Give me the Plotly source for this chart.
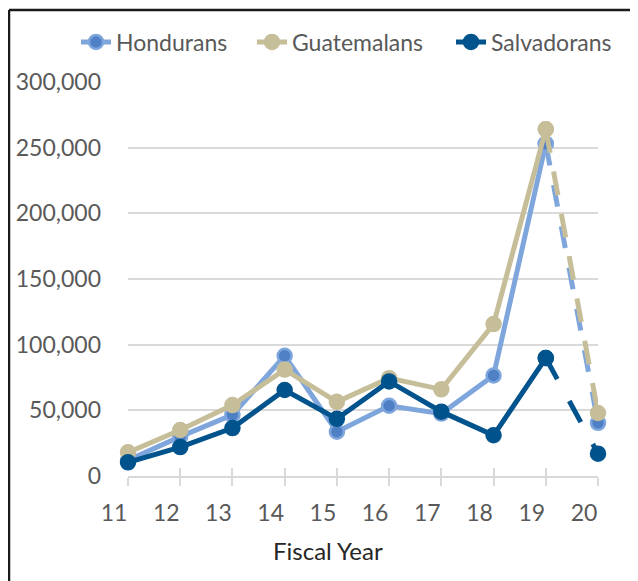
import plotly.graph_objects as go

years = [11, 12, 13, 14, 15, 16, 17, 18, 19, 20]
year_labels = ["11", "12", "13", "14", "15", "16", "17", "18", "19", "20"]
hondurans = [12000, 30000, 46500, 91500, 33700, 53500, 47500, 76500, 253000, 40500]
guatemalans = [18000, 35000, 54000, 81000, 56500, 74500, 66000, 115700, 264000, 48000]
salvadorans = [10400, 22000, 36500, 65500, 43500, 72000, 49000, 31000, 89800, 17000]
y_ticks = [0, 50000, 100000, 150000, 200000, 250000, 300000]
y_tick_text = ["0", "50,000", "100,000", "150,000", "200,000", "250,000", "300,000"]

# page body has an 8px margin; positions below are in figure pixels
OFF = 8
W, H = 638 - OFF, 581 - OFF
L, T = 128 - OFF, 82 - OFF
R = W - (598 - OFF)
B = H - (476 - OFF)
pw, ph = W - L - R, H - T - B

series = [
    ("Hondurans", hondurans, "#7EA6DC", "#4F80C6", "22px,20px", "legend", 117),
    ("Guatemalans", guatemalans, "#C6BE99", "#C6BE99", "24px,19px", "legend2", 293),
    ("Salvadorans", salvadorans, "#00538C", "#00538C", "24px,25px", "legend3", 492),
]

FONT = "Lato, 'Open Sans', sans-serif"
GRAY = "#595959"

fig = go.Figure()
legends = {}
for name, vals, lc, mc, dash, lg, tx in series:
    fig.add_trace(go.Scatter(
        x=years[:9], y=vals[:9], name=name, mode="lines+markers", legend=lg,
        line=dict(color=lc, width=5),
        marker=dict(color=mc, size=14, line=dict(color=lc, width=2.5)),
        cliponaxis=False,
    ))
    fig.add_trace(go.Scatter(
        x=years[8:], y=vals[8:], name=name, mode="lines+markers", showlegend=False,
        line=dict(color=lc, width=5, dash=dash),
        marker=dict(color=mc, size=14, line=dict(color=lc, width=2.5)),
        cliponaxis=False,
    ))
    legends[lg] = dict(orientation="h", xref="container", yref="container",
                       x=(tx - 41 - OFF) / W, xanchor="left",
                       y=1 - (42 - OFF) / H, yanchor="middle",
                       font=dict(size=23, color=GRAY, family=FONT),
                       bgcolor="rgba(0,0,0,0)", itemwidth=30)

fig.update_layout(
    width=W, height=H,
    margin=dict(l=L, r=R, t=T, b=B, autoexpand=False),
    paper_bgcolor="white", plot_bgcolor="white",
    font=dict(family=FONT, color=GRAY, size=23),
    showlegend=True,
    **legends,
    xaxis=dict(range=[11, 20], tickvals=years, ticktext=year_labels,
               showgrid=False, showline=True, linecolor="#D9D9D9", linewidth=2,
               ticks="outside", ticklen=8, tickwidth=2, tickcolor="#D9D9D9",
               ticklabelshift=-14, ticklabelstandoff=7, automargin=False,
               tickfont=dict(size=23, color=GRAY), zeroline=False),
    xaxis2=dict(range=[11, 20], overlaying="x", matches="x", tickvals=years,
                showticklabels=False, showgrid=False, showline=False,
                ticks="inside", ticklen=8, tickwidth=2, tickcolor="#D9D9D9",
                side="bottom", anchor="y", automargin=False),
    yaxis=dict(range=[0, 300000], tickvals=y_ticks, ticktext=y_tick_text,
               showgrid=True, gridcolor="#D9D9D9", gridwidth=1.5,
               zeroline=False, showline=False, ticks="", automargin=False,
               ticklabelstandoff=26, tickfont=dict(size=23, color=GRAY)),
    annotations=[dict(text="Fiscal Year", xref="paper", yref="paper",
                      x=(328 - 128) / pw, y=(476 - 550) / ph, xanchor="center",
                      yanchor="middle", showarrow=False,
                      font=dict(size=24, color="#262626", family=FONT))],
    shapes=[
        dict(type="line", xref="paper", yref="paper",
             x0=(9 - 128) / pw, x1=(650 - 128) / pw,
             y0=(476 - 10) / ph, y1=(476 - 10) / ph,
             line=dict(color="#1a1a1a", width=2.5)),
        dict(type="line", xref="paper", yref="paper",
             x0=(9 - 128) / pw, x1=(9 - 128) / pw,
             y0=(476 - 10) / ph, y1=(476 - 600) / ph,
             line=dict(color="#1a1a1a", width=2.5)),
    ],
)
fig.add_trace(go.Scatter(x=[11], y=[None], xaxis="x2", showlegend=False,
                         hoverinfo="skip", mode="lines"))

fig.write_html("out.html")
